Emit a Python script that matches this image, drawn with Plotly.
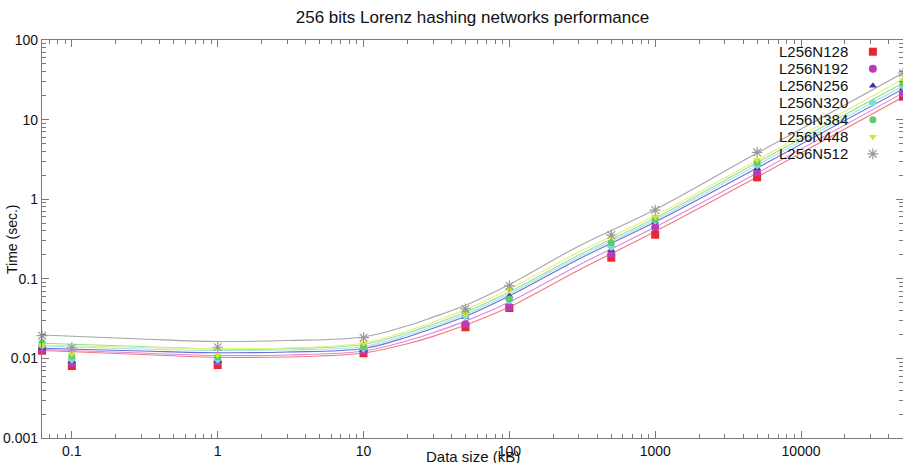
import plotly.graph_objects as go

# ---- data ----
series_names = ["L256N128", "L256N192", "L256N256", "L256N320", "L256N384", "L256N448", "L256N512"]

data_size_kb = [0.0625, 0.1, 1, 10, 50, 100, 500, 1000, 5000, 50000]
t_n128 = [0.0125, 0.00803, 0.00826, 0.0116, 0.0246, 0.0430, 0.184, 0.358, 1.88, 19.4]
t_n192 = [0.0129, 0.00867, 0.00901, 0.0124, 0.0268, 0.0442, 0.203, 0.443, 2.15, 21.4]
t_n256 = [0.0135, 0.00927, 0.00941, 0.0128, 0.0331, 0.0608, 0.230, 0.521, 2.44, 24.7]
t_n320 = [0.0145, 0.00975, 0.00975, 0.0134, 0.0341, 0.0542, 0.253, 0.548, 2.69, 26.4]
t_n384 = [0.0157, 0.0107, 0.0105, 0.0140, 0.0379, 0.0557, 0.284, 0.564, 2.91, 28.8]
t_n448 = [0.0147, 0.0113, 0.0110, 0.0155, 0.0361, 0.0723, 0.338, 0.603, 3.11, 31.4]
t_n512 = [0.0193, 0.0136, 0.0138, 0.0182, 0.0418, 0.0813, 0.355, 0.731, 3.88, 38.5]

# fitted curves
fit_x = [0.0625, 0.3, 1, 3, 10, 20, 30, 50, 100, 300, 1000, 5000, 50000]
fit_n128 = [0.01257, 0.01119, 0.01032, 0.01041, 0.01169, 0.0153, 0.0189, 0.0262, 0.04422, 0.1290, 0.3928, 1.901, 19.23]
fit_n192 = [0.01294, 0.01169, 0.01087, 0.01103, 0.01239, 0.0167, 0.0210, 0.0294, 0.0511, 0.1491, 0.4474, 2.134, 21.59]
fit_n256 = [0.01339, 0.01239, 0.01179, 0.01203, 0.01331, 0.0186, 0.0239, 0.0338, 0.0608, 0.1773, 0.5171, 2.466, 24.24]
fit_n320 = [0.01432, 0.01312, 0.01257, 0.01275, 0.01411, 0.0197, 0.0253, 0.0358, 0.06442, 0.1878, 0.5479, 2.689, 26.43]
fit_n384 = [0.01548, 0.01411, 0.01312, 0.01331, 0.01495, 0.0209, 0.0268, 0.0380, 0.06828, 0.1991, 0.5804, 2.891, 28.83]
fit_n448 = [0.01474, 0.01370, 0.01331, 0.01351, 0.01561, 0.0221, 0.0287, 0.0410, 0.07444, 0.2171, 0.6240, 3.108, 32.36]
fit_n512 = [0.01968, 0.01753, 0.01631, 0.01679, 0.0186, 0.0257, 0.0330, 0.0465, 0.0850, 0.2583, 0.7425, 3.805, 38.49]

x_tick_vals = [0.1, 1, 10, 100, 1000, 10000]
x_tick_text = ["0.1", "1", "10", "100", "1000", "10000"]
y_tick_vals = [0.001, 0.01, 0.1, 1, 10, 100]
y_tick_text = ["0.001", "0.01", "0.1", "1", "10", "100"]

# ---- styles ----
marker_colors = ["#E8282B", "#B83CB8", "#3A35A8", "#7FDAD6", "#5CCB6B", "#DCE22A", "#999999"]
line_colors = ["#F47A7A", "#D98AD9", "#6C6CDC", "#A2E6E2", "#96E0A2", "#E8EE7E", "#A6A6A6"]
symbols = ["square", "circle", "triangle-up", "diamond", "circle", "triangle-down", "asterisk-open"]
sizes = [8, 8, 7, 7, 7, 7, 9]

points = [t_n128, t_n192, t_n256, t_n320, t_n384, t_n448, t_n512]
fits = [fit_n128, fit_n192, fit_n256, fit_n320, fit_n384, fit_n448, fit_n512]

FONT = "Arial, 'Liberation Sans', sans-serif"
FRAME = "#7a7a7a"

fig = go.Figure()

for name, f, lc in zip(series_names, fits, line_colors):
    fig.add_trace(go.Scatter(
        x=fit_x, y=f, mode="lines", name=name + " fit",
        line=dict(color=lc, width=1.1, shape="spline", smoothing=1.0),
        showlegend=False, hoverinfo="skip"))

for name, p, mc, sym, sz in zip(series_names, points, marker_colors, symbols, sizes):
    mk = dict(color=mc, symbol=sym, size=sz)
    if sym == "asterisk-open":
        mk["line"] = dict(color=mc, width=1.2)
    fig.add_trace(go.Scatter(
        x=data_size_kb, y=p, mode="markers", name=name,
        marker=mk, showlegend=False, cliponaxis=False))

# custom legend: text on the left, symbol on the right
leg_top = 0.9706
leg_step = 0.0428
leg_y = [leg_top - i * leg_step for i in range(len(series_names))]
for i, (name, mc, sym, sz) in enumerate(zip(series_names, marker_colors, symbols, sizes)):
    mk = dict(color=mc, symbol=sym, size=sz)
    if sym == "asterisk-open":
        mk["line"] = dict(color=mc, width=1.2)
    fig.add_trace(go.Scatter(
        x=[0.965], y=[leg_y[i]], xaxis="x2", yaxis="y2", mode="markers",
        marker=mk, showlegend=False, hoverinfo="skip", cliponaxis=False))
    fig.add_annotation(
        x=0.8537, y=leg_y[i], xref="paper", yref="paper",
        xanchor="left", yanchor="middle", text=name, showarrow=False,
        font=dict(family=FONT, size=15, color="#111111"))

axis_common = dict(
    type="log", showgrid=False, zeroline=False,
    showline=True, linecolor=FRAME, linewidth=1.3, mirror="allticks",
    ticks="inside", ticklen=7, tickcolor=FRAME, tickwidth=1,
    tickfont=dict(family=FONT, size=14, color="#111111"),
    minor=dict(ticks="inside", ticklen=4, tickcolor=FRAME, tickwidth=1, dtick="D1", showgrid=False),
)

fig.update_layout(
    width=903, height=463,
    margin=dict(l=42, r=0, t=40, b=25),
    paper_bgcolor="white", plot_bgcolor="white",
    showlegend=False,
    title=dict(text="256 bits Lorenz hashing networks performance",
               x=(42 + 861 / 2) / 903, xanchor="center", y=1 - 17 / 463, yanchor="middle",
               font=dict(family=FONT, size=17, color="#111111")),
    xaxis=dict(range=[-1.2045, 4.699], tickmode="array", tickvals=x_tick_vals, ticktext=x_tick_text,
               **axis_common),
    yaxis=dict(range=[-3, 2], tickmode="array", tickvals=y_tick_vals, ticktext=y_tick_text,
               **axis_common),
    xaxis2=dict(overlaying="x", range=[0, 1], visible=False),
    yaxis2=dict(overlaying="y", range=[0, 1], visible=False),
)

fig.add_annotation(x=0.5, y=(438 - 456) / 398, xref="paper", yref="paper",
                   xanchor="center", yanchor="middle", text="Data size (kB)", showarrow=False,
                   font=dict(family=FONT, size=15, color="#111111"))
fig.add_annotation(x=(12 - 42) / 861, y=(438 - 240) / 398, xref="paper", yref="paper",
                   xanchor="center", yanchor="middle", text="Time (sec.)", textangle=-90,
                   showarrow=False, font=dict(family=FONT, size=14, color="#111111"))

fig.write_html("out.html")
